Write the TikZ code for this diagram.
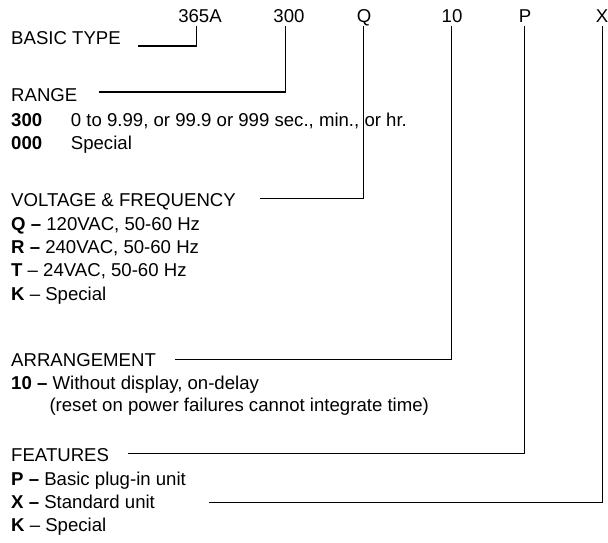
\documentclass[tikz,border=0pt]{standalone}
\usepackage{fontspec}
\setmainfont{Liberation Sans}
\begin{document}
\begin{tikzpicture}[x=1pt,y=-1pt,
  txt/.style={anchor=base west,inner sep=0pt,font=\fontsize{18.6}{20}\selectfont},
  code/.style={anchor=base,inner sep=0pt,font=\fontsize{18.6}{20}\selectfont},
  link/.style={draw=black,line width=1.1pt}]
\useasboundingbox (0,0) rectangle (608,543);
% top code
\node[code] (c1) at (200,23) {365A};
\node[code] (c2) at (289,23) {300};
\node[code] (c3) at (364,23) {Q};
\node[code] (c4) at (452,23) {10};
\node[code] (c5) at (525,23) {P};
\node[code] (c6) at (602,23) {X};
% basic type
\node[txt] (basic) at (11,45) {BASIC TYPE};
% range
\node[txt] (range) at (11,101.7) {RANGE};
\node[txt] (r300) at (11,126) {\textbf{300}};
\node[txt] (r300t) at (70.7,126) {0 to 9.99, or 99.9 or 999 sec., min., or hr.};
\node[txt] (r000) at (11,149.3) {\textbf{000}};
\node[txt] (r000t) at (70.7,149.3) {Special};
% voltage
\node[txt] (volt) at (11,206.7) {VOLTAGE \& FREQUENCY};
\node[txt] (vq) at (11,230) {\textbf{Q –} 120VAC, 50-60 Hz};
\node[txt] (vr) at (11,253.3) {\textbf{R –} 240VAC, 50-60 Hz};
\node[txt] (vt) at (11,276.7) {\textbf{T} – 24VAC, 50-60 Hz};
\node[txt] (vk) at (11,300) {\textbf{K} – Special};
% arrangement
\node[txt] (arr) at (11,366) {ARRANGEMENT};
\node[txt] (a10) at (11,389.3) {\textbf{10 –} Without display, on-delay};
\node[txt] (a10b) at (49.3,411.5) {(reset on power failures cannot integrate time)};
% features
\node[txt] (feat) at (11,461.7) {FEATURES};
\node[txt] (fp) at (11,485) {\textbf{P –} Basic plug-in unit};
\node[txt] (fx) at (11,508.3) {\textbf{X –} Standard unit};
\node[txt] (fk) at (11,531.7) {\textbf{K} – Special};
% connector ends
\coordinate (s1) at (137.6,46);  \coordinate (t1) at (196.7,26);
\coordinate (s2) at (99,92);     \coordinate (t2) at (285.5,26);
\coordinate (s3) at (260,198.3); \coordinate (t3) at (363.5,26);
\coordinate (s4) at (175,359.3); \coordinate (t4) at (451.5,26);
\coordinate (s5) at (128,453.5); \coordinate (t5) at (524.5,26);
\coordinate (s6) at (209,502.7); \coordinate (t6) at (602.5,26);
\draw[link] (s1) -| (t1);
\draw[link] (s2) -| (t2);
\draw[link] (s3) -| (t3);
\draw[link] (s4) -| (t4);
\draw[link] (s5) -| (t5);
\draw[link] (s6) -| (t6);
\end{tikzpicture}
\end{document}
